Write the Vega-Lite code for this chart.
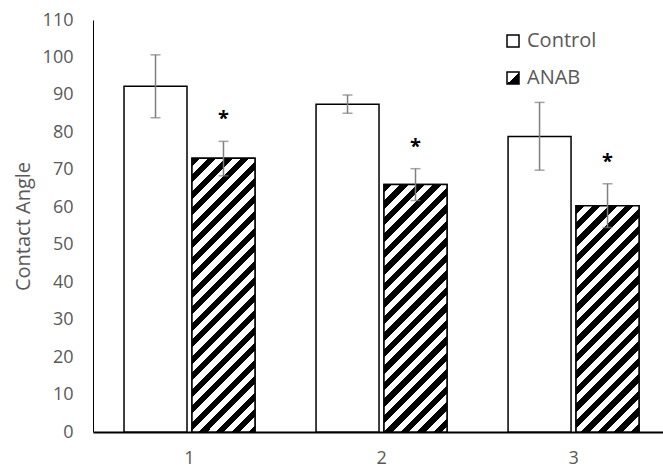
{
  "$schema": "https://vega.github.io/schema/vega-lite/v6.json",
  "width": 570,
  "height": 412,
  "autosize": {"type": "none"},
  "padding": {"left": 93, "top": 20, "right": 0, "bottom": 35},
  "background": "white",
  "config": {
    "view": {"stroke": null},
    "font": "Open Sans",
    "axis": {"labelColor": "#595959", "titleColor": "#595959", "labelFont": "Open Sans", "titleFont": "Open Sans", "grid": false, "ticks": false, "tickSize": 0},
    "axisY": {"labelFontSize": 18, "labelPadding": 20, "domainColor": "#000", "domainWidth": 1, "titleFontSize": 20, "titleFontWeight": "normal", "titlePadding": 9},
    "axisX": {"labelAngle": 0, "labelFontSize": 18, "labelPadding": 17, "domainColor": "#000", "domainWidth": 2}
  },
  "data": {
    "values": [
      {"group": "1", "series": "Control", "mean": 92.3, "lower": 83.9, "upper": 100.7, "sig": ""},
      {"group": "1", "series": "ANAB", "mean": 73.1, "lower": 68.4, "upper": 77.6, "sig": "*"},
      {"group": "2", "series": "Control", "mean": 87.5, "lower": 85.1, "upper": 90.0, "sig": ""},
      {"group": "2", "series": "ANAB", "mean": 66.1, "lower": 61.8, "upper": 70.3, "sig": "*"},
      {"group": "3", "series": "Control", "mean": 78.9, "lower": 69.9, "upper": 88.0, "sig": ""},
      {"group": "3", "series": "ANAB", "mean": 60.4, "lower": 54.6, "upper": 66.3, "sig": "*"}
    ]
  },
  "layer": [
    {
      "mark": {"type": "bar", "fill": "#ffffff", "strokeWidth": 1.5},
      "encoding": {
        "x": {"field": "group", "type": "nominal", "title": null,
              "scale": {"paddingInner": 0.318, "paddingOuter": 0.1432, "align": 0.564}},
        "xOffset": {"field": "series", "type": "nominal", "scale": {"domain": ["Control", "ANAB"], "paddingInner": 0.0735, "paddingOuter": 0}},
        "y": {"field": "mean", "type": "quantitative", "title": "Contact Angle",
              "scale": {"domain": [0, 110], "nice": false},
              "axis": {"values": [0, 10, 20, 30, 40, 50, 60, 70, 80, 90, 100, 110], "labelOverlap": false, "labelSeparation": 0, "tickCount": 12}},
        "stroke": {"field": "series", "type": "nominal",
                 "scale": {"domain": ["Control", "ANAB"], "range": ["#000000", "#000000"]},
                 "legend": {"orient": "none", "legendX": 410, "legendY": 11, "title": null, "symbolType": "square", "symbolSize": 144, "symbolStrokeWidth": 1.5, "symbolOpacity": 1, "labelFontSize": 20, "labelColor": "#595959", "labelFont": "Open Sans", "rowPadding": 17, "labelOffset": 4,
                   "encoding": {"symbols": {
                     "strokeWidth": {"value": 1.5},
                     "opacity": {"value": 1},
                     "fill": {"value": {"expr": "datum.value === 'ANAB' ? {gradient: 'linear', x1: 0, y1: 0, x2: 1, y2: 1, stops: [{offset: 0, color: '#fff'}, {offset: 0.5, color: '#fff'}, {offset: 0.5, color: '#000'}, {offset: 1, color: '#000'}]} : '#fff'"}}}}}}
      }
    },
    {
      "transform": [{"filter": "datum.series === 'ANAB'"}],
      "mark": {"type": "bar", "stroke": "#000", "strokeWidth": 1.5},
      "encoding": {
        "x": {"field": "group", "type": "nominal", "title": null},
        "xOffset": {"field": "series", "type": "nominal", "scale": {"domain": ["Control", "ANAB"]}},
        "y": {"field": "mean", "type": "quantitative", "title": "Contact Angle", "axis": {"values": [0, 10, 20, 30, 40, 50, 60, 70, 80, 90, 100, 110], "labelOverlap": false, "labelSeparation": 0, "tickCount": 12}},
        "fill": {
          "condition": [
            {"test": "datum.group === '1'", "value": {"gradient": "linear", "x1": 0, "y1": 0, "x2": 0.26881, "y2": 1.16826, "stops": [
              {"offset": 0, "color": "#000"}, {"offset": 0.0245, "color": "#000"}, {"offset": 0.0245, "color": "#fff"}, {"offset": 0.049, "color": "#fff"},
              {"offset": 0.049, "color": "#000"}, {"offset": 0.0735, "color": "#000"}, {"offset": 0.0735, "color": "#fff"}, {"offset": 0.098, "color": "#fff"},
              {"offset": 0.098, "color": "#000"}, {"offset": 0.1225, "color": "#000"}, {"offset": 0.1225, "color": "#fff"}, {"offset": 0.147, "color": "#fff"},
              {"offset": 0.147, "color": "#000"}, {"offset": 0.1715, "color": "#000"}, {"offset": 0.1715, "color": "#fff"}, {"offset": 0.196, "color": "#fff"},
              {"offset": 0.196, "color": "#000"}, {"offset": 0.2205, "color": "#000"}, {"offset": 0.2205, "color": "#fff"}, {"offset": 0.245, "color": "#fff"},
              {"offset": 0.245, "color": "#000"}, {"offset": 0.2695, "color": "#000"}, {"offset": 0.2695, "color": "#fff"}, {"offset": 0.294, "color": "#fff"},
              {"offset": 0.294, "color": "#000"}, {"offset": 0.3185, "color": "#000"}, {"offset": 0.3185, "color": "#fff"}, {"offset": 0.343, "color": "#fff"},
              {"offset": 0.343, "color": "#000"}, {"offset": 0.3675, "color": "#000"}, {"offset": 0.3675, "color": "#fff"}, {"offset": 0.392, "color": "#fff"},
              {"offset": 0.392, "color": "#000"}, {"offset": 0.4165, "color": "#000"}, {"offset": 0.4165, "color": "#fff"}, {"offset": 0.441, "color": "#fff"},
              {"offset": 0.441, "color": "#000"}, {"offset": 0.4655, "color": "#000"}, {"offset": 0.4655, "color": "#fff"}, {"offset": 0.49, "color": "#fff"},
              {"offset": 0.49, "color": "#000"}, {"offset": 0.5145, "color": "#000"}, {"offset": 0.5145, "color": "#fff"}, {"offset": 0.539, "color": "#fff"},
              {"offset": 0.539, "color": "#000"}, {"offset": 0.5635, "color": "#000"}, {"offset": 0.5635, "color": "#fff"}, {"offset": 0.588, "color": "#fff"},
              {"offset": 0.588, "color": "#000"}, {"offset": 0.6125, "color": "#000"}, {"offset": 0.6125, "color": "#fff"}, {"offset": 0.637, "color": "#fff"},
              {"offset": 0.637, "color": "#000"}, {"offset": 0.6615, "color": "#000"}, {"offset": 0.6615, "color": "#fff"}, {"offset": 0.686, "color": "#fff"},
              {"offset": 0.686, "color": "#000"}, {"offset": 0.7105, "color": "#000"}, {"offset": 0.7105, "color": "#fff"}, {"offset": 0.735, "color": "#fff"},
              {"offset": 0.735, "color": "#000"}, {"offset": 0.7595, "color": "#000"}, {"offset": 0.7595, "color": "#fff"}, {"offset": 0.784, "color": "#fff"},
              {"offset": 0.784, "color": "#000"}, {"offset": 0.8085, "color": "#000"}, {"offset": 0.8085, "color": "#fff"}, {"offset": 0.833, "color": "#fff"},
              {"offset": 0.833, "color": "#000"}, {"offset": 0.8575, "color": "#000"}, {"offset": 0.8575, "color": "#fff"}, {"offset": 0.882, "color": "#fff"},
              {"offset": 0.882, "color": "#000"}, {"offset": 0.9065, "color": "#000"}, {"offset": 0.9065, "color": "#fff"}, {"offset": 0.931, "color": "#fff"},
              {"offset": 0.931, "color": "#000"}, {"offset": 0.9555, "color": "#000"}, {"offset": 0.9555, "color": "#fff"}, {"offset": 0.98, "color": "#fff"},
              {"offset": 0.98, "color": "#000"}, {"offset": 1, "color": "#000"}]}},
            {"test": "datum.group === '2'", "value": {"gradient": "linear", "x1": 0, "y1": 0, "x2": 0.29978, "y2": 1.17818, "stops": [
              {"offset": 0, "color": "#000"}, {"offset": 0.0266, "color": "#000"}, {"offset": 0.0266, "color": "#fff"}, {"offset": 0.0531, "color": "#fff"},
              {"offset": 0.0531, "color": "#000"}, {"offset": 0.0797, "color": "#000"}, {"offset": 0.0797, "color": "#fff"}, {"offset": 0.1062, "color": "#fff"},
              {"offset": 0.1062, "color": "#000"}, {"offset": 0.1328, "color": "#000"}, {"offset": 0.1328, "color": "#fff"}, {"offset": 0.1594, "color": "#fff"},
              {"offset": 0.1594, "color": "#000"}, {"offset": 0.186, "color": "#000"}, {"offset": 0.186, "color": "#fff"}, {"offset": 0.2125, "color": "#fff"},
              {"offset": 0.2125, "color": "#000"}, {"offset": 0.2391, "color": "#000"}, {"offset": 0.2391, "color": "#fff"}, {"offset": 0.2656, "color": "#fff"},
              {"offset": 0.2656, "color": "#000"}, {"offset": 0.2922, "color": "#000"}, {"offset": 0.2922, "color": "#fff"}, {"offset": 0.3187, "color": "#fff"},
              {"offset": 0.3187, "color": "#000"}, {"offset": 0.3453, "color": "#000"}, {"offset": 0.3453, "color": "#fff"}, {"offset": 0.3719, "color": "#fff"},
              {"offset": 0.3719, "color": "#000"}, {"offset": 0.3985, "color": "#000"}, {"offset": 0.3985, "color": "#fff"}, {"offset": 0.425, "color": "#fff"},
              {"offset": 0.425, "color": "#000"}, {"offset": 0.4516, "color": "#000"}, {"offset": 0.4516, "color": "#fff"}, {"offset": 0.4781, "color": "#fff"},
              {"offset": 0.4781, "color": "#000"}, {"offset": 0.5047, "color": "#000"}, {"offset": 0.5047, "color": "#fff"}, {"offset": 0.5312, "color": "#fff"},
              {"offset": 0.5312, "color": "#000"}, {"offset": 0.5578, "color": "#000"}, {"offset": 0.5578, "color": "#fff"}, {"offset": 0.5844, "color": "#fff"},
              {"offset": 0.5844, "color": "#000"}, {"offset": 0.611, "color": "#000"}, {"offset": 0.611, "color": "#fff"}, {"offset": 0.6375, "color": "#fff"},
              {"offset": 0.6375, "color": "#000"}, {"offset": 0.6641, "color": "#000"}, {"offset": 0.6641, "color": "#fff"}, {"offset": 0.6906, "color": "#fff"},
              {"offset": 0.6906, "color": "#000"}, {"offset": 0.7172, "color": "#000"}, {"offset": 0.7172, "color": "#fff"}, {"offset": 0.7437, "color": "#fff"},
              {"offset": 0.7437, "color": "#000"}, {"offset": 0.7703, "color": "#000"}, {"offset": 0.7703, "color": "#fff"}, {"offset": 0.7968, "color": "#fff"},
              {"offset": 0.7968, "color": "#000"}, {"offset": 0.8234, "color": "#000"}, {"offset": 0.8234, "color": "#fff"}, {"offset": 0.85, "color": "#fff"},
              {"offset": 0.85, "color": "#000"}, {"offset": 0.8766, "color": "#000"}, {"offset": 0.8766, "color": "#fff"}, {"offset": 0.9031, "color": "#fff"},
              {"offset": 0.9031, "color": "#000"}, {"offset": 0.9297, "color": "#000"}, {"offset": 0.9297, "color": "#fff"}, {"offset": 0.9562, "color": "#fff"},
              {"offset": 0.9562, "color": "#000"}, {"offset": 0.9828, "color": "#000"}, {"offset": 0.9828, "color": "#fff"}, {"offset": 1, "color": "#fff"}]}}
          ],
          "value": {"gradient": "linear", "x1": 0, "y1": 0, "x2": 0.33045, "y2": 1.18649, "stops": [
              {"offset": 0, "color": "#000"}, {"offset": 0.0285, "color": "#000"}, {"offset": 0.0285, "color": "#fff"}, {"offset": 0.0571, "color": "#fff"},
              {"offset": 0.0571, "color": "#000"}, {"offset": 0.0856, "color": "#000"}, {"offset": 0.0856, "color": "#fff"}, {"offset": 0.1141, "color": "#fff"},
              {"offset": 0.1141, "color": "#000"}, {"offset": 0.1426, "color": "#000"}, {"offset": 0.1426, "color": "#fff"}, {"offset": 0.1712, "color": "#fff"},
              {"offset": 0.1712, "color": "#000"}, {"offset": 0.1997, "color": "#000"}, {"offset": 0.1997, "color": "#fff"}, {"offset": 0.2282, "color": "#fff"},
              {"offset": 0.2282, "color": "#000"}, {"offset": 0.2567, "color": "#000"}, {"offset": 0.2567, "color": "#fff"}, {"offset": 0.2853, "color": "#fff"},
              {"offset": 0.2853, "color": "#000"}, {"offset": 0.3138, "color": "#000"}, {"offset": 0.3138, "color": "#fff"}, {"offset": 0.3423, "color": "#fff"},
              {"offset": 0.3423, "color": "#000"}, {"offset": 0.3708, "color": "#000"}, {"offset": 0.3708, "color": "#fff"}, {"offset": 0.3994, "color": "#fff"},
              {"offset": 0.3994, "color": "#000"}, {"offset": 0.4279, "color": "#000"}, {"offset": 0.4279, "color": "#fff"}, {"offset": 0.4564, "color": "#fff"},
              {"offset": 0.4564, "color": "#000"}, {"offset": 0.485, "color": "#000"}, {"offset": 0.485, "color": "#fff"}, {"offset": 0.5135, "color": "#fff"},
              {"offset": 0.5135, "color": "#000"}, {"offset": 0.542, "color": "#000"}, {"offset": 0.542, "color": "#fff"}, {"offset": 0.5705, "color": "#fff"},
              {"offset": 0.5705, "color": "#000"}, {"offset": 0.5991, "color": "#000"}, {"offset": 0.5991, "color": "#fff"}, {"offset": 0.6276, "color": "#fff"},
              {"offset": 0.6276, "color": "#000"}, {"offset": 0.6561, "color": "#000"}, {"offset": 0.6561, "color": "#fff"}, {"offset": 0.6846, "color": "#fff"},
              {"offset": 0.6846, "color": "#000"}, {"offset": 0.7132, "color": "#000"}, {"offset": 0.7132, "color": "#fff"}, {"offset": 0.7417, "color": "#fff"},
              {"offset": 0.7417, "color": "#000"}, {"offset": 0.7702, "color": "#000"}, {"offset": 0.7702, "color": "#fff"}, {"offset": 0.7988, "color": "#fff"},
              {"offset": 0.7988, "color": "#000"}, {"offset": 0.8273, "color": "#000"}, {"offset": 0.8273, "color": "#fff"}, {"offset": 0.8558, "color": "#fff"},
              {"offset": 0.8558, "color": "#000"}, {"offset": 0.8843, "color": "#000"}, {"offset": 0.8843, "color": "#fff"}, {"offset": 0.9129, "color": "#fff"},
              {"offset": 0.9129, "color": "#000"}, {"offset": 0.9414, "color": "#000"}, {"offset": 0.9414, "color": "#fff"}, {"offset": 0.9699, "color": "#fff"},
              {"offset": 0.9699, "color": "#000"}, {"offset": 0.9984, "color": "#000"}, {"offset": 0.9984, "color": "#fff"}, {"offset": 1, "color": "#fff"}]}
        }
      }
    },
    {
      "mark": {"type": "rule", "color": "#7f7f7f", "strokeWidth": 1.5},
      "encoding": {
        "x": {"field": "group", "type": "nominal", "title": null},
        "xOffset": {"field": "series", "type": "nominal", "scale": {"domain": ["Control", "ANAB"]}},
        "y": {"field": "lower", "type": "quantitative", "title": "Contact Angle", "axis": {"values": [0, 10, 20, 30, 40, 50, 60, 70, 80, 90, 100, 110], "labelOverlap": false, "labelSeparation": 0, "tickCount": 12}},
        "y2": {"field": "upper"}
      }
    },
    {
      "mark": {"type": "tick", "color": "#7f7f7f", "size": 10, "thickness": 1.5},
      "encoding": {
        "x": {"field": "group", "type": "nominal", "title": null},
        "xOffset": {"field": "series", "type": "nominal", "scale": {"domain": ["Control", "ANAB"]}},
        "y": {"field": "lower", "type": "quantitative", "title": "Contact Angle", "axis": {"values": [0, 10, 20, 30, 40, 50, 60, 70, 80, 90, 100, 110], "labelOverlap": false, "labelSeparation": 0, "tickCount": 12}}
      }
    },
    {
      "mark": {"type": "tick", "color": "#7f7f7f", "size": 10, "thickness": 1.5},
      "encoding": {
        "x": {"field": "group", "type": "nominal", "title": null},
        "xOffset": {"field": "series", "type": "nominal", "scale": {"domain": ["Control", "ANAB"]}},
        "y": {"field": "upper", "type": "quantitative", "title": "Contact Angle", "axis": {"values": [0, 10, 20, 30, 40, 50, 60, 70, 80, 90, 100, 110], "labelOverlap": false, "labelSeparation": 0, "tickCount": 12}}
      }
    },
    {
      "transform": [{"filter": "datum.series === 'ANAB'"}],
      "mark": {"type": "text", "dy": -16, "fontSize": 20, "fontWeight": "bold", "color": "#000", "baseline": "alphabetic", "font": "Open Sans"},
      "encoding": {
        "x": {"field": "group", "type": "nominal", "title": null},
        "xOffset": {"field": "series", "type": "nominal", "scale": {"domain": ["Control", "ANAB"]}},
        "y": {"field": "upper", "type": "quantitative", "title": "Contact Angle", "axis": {"values": [0, 10, 20, 30, 40, 50, 60, 70, 80, 90, 100, 110], "labelOverlap": false, "labelSeparation": 0, "tickCount": 12}},
        "text": {"field": "sig"}
      }
    }
  ]
}
